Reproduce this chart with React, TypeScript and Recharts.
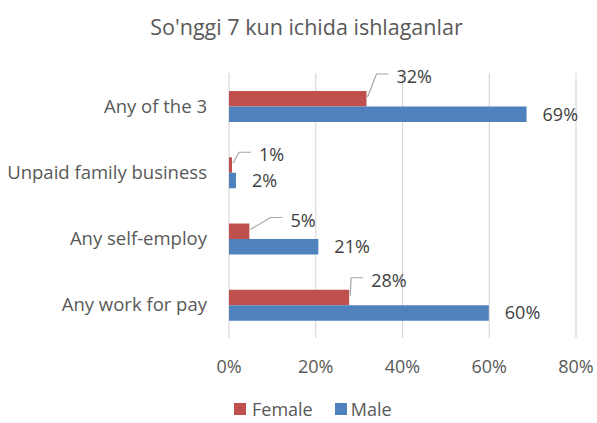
import React from 'react';
import { BarChart, Bar, XAxis, YAxis, CartesianGrid, LabelList } from 'recharts';

const categories = ['Any of the 3', 'Unpaid family business', 'Any self-employ', 'Any work for pay'];
const femaleValues = [31.7, 0.7, 4.7, 27.7];
const maleValues = [68.6, 1.6, 20.6, 59.9];
const xTicks = [0, 20, 40, 60, 80];
const title = "So'nggi 7 kun ichida ishlaganlar";

// Excel-style manually placed female labels: elbow offset relative to bar end / bar top
const femaleLabelNudge: Record<string, [number, number]> = {
  'Any of the 3': [10, -17],
  'Unpaid family business': [7, -5],
  'Any self-employ': [21, -6],
  'Any work for pay': [2, -12],
};

const data = categories.map((name, i) => ({ name, Female: femaleValues[i], Male: maleValues[i] }));

const FONT = '"Open Sans", sans-serif';
const AXIS_COLOR = '#595959';
const LABEL_COLOR = '#404040';
const RED = '#C0504D';
const BLUE = '#4F81BD';

const FemaleLabel = (props: any) => {
  const { x, y, width, value, index } = props;
  const name = categories[index];
  const [dx, dy] = femaleLabelNudge[name] || [10, -10];
  const end = Number(x) + Number(width);
  const top = Number(y);
  const sx = end + 1;
  const sy = top + 6;
  const ex = end + dx;
  const ey = top + dy;
  const lx = ex + 12;
  return (
    <g>
      <polyline points={`${sx},${sy} ${ex},${ey} ${lx},${ey}`} fill="none" stroke="#A6A6A6" strokeWidth={1.2} />
      <text x={lx + 8} y={ey + 2} dominantBaseline="central" fill={LABEL_COLOR} fontSize={18} fontFamily={FONT}>
        {Math.round(Number(value))}%
      </text>
    </g>
  );
};

export default function App() {
  return (
    <div style={{ position: 'absolute', left: 0, top: 0, width: 597, height: 423, background: '#fff', fontFamily: FONT }}>
      <div style={{ position: 'absolute', left: 16, width: 581, top: 13, textAlign: 'center', fontSize: 21.5, color: AXIS_COLOR, lineHeight: '28px' }}>
        {title}
      </div>
      <BarChart
        layout="vertical"
        width={597}
        height={423}
        data={data}
        margin={{ top: 73, right: 21, bottom: 0, left: 0 }}
        barGap={0}
        barSize={15.5}
      >
        <CartesianGrid horizontal={false} stroke="#D9D9D9" strokeWidth={1.2} />
        <XAxis
          type="number"
          domain={[0, 80]}
          ticks={xTicks}
          tickFormatter={(v: number) => `${v}%`}
          axisLine={false}
          tickLine={false}
          height={85}
          tickMargin={16}
          tick={{ fill: AXIS_COLOR, fontSize: 18, fontFamily: FONT }}
        />
        <YAxis
          type="category"
          dataKey="name"
          width={229}
          axisLine={false}
          tickLine={false}
          tickMargin={16}
          tick={{ fill: AXIS_COLOR, fontSize: 18.5, fontFamily: FONT }}
        />
        <Bar dataKey="Female" fill={RED} isAnimationActive={false}>
          <LabelList dataKey="Female" content={FemaleLabel} />
        </Bar>
        <Bar dataKey="Male" fill={BLUE} isAnimationActive={false}>
          <LabelList
            dataKey="Male"
            position="right"
            offset={16}
            formatter={(v: any) => `${Math.round(Number(v))}%`}
            fill={LABEL_COLOR}
            style={{ fontSize: 18, fontFamily: FONT, fill: LABEL_COLOR }}
          />
        </Bar>
      </BarChart>
      <div style={{ position: 'absolute', top: 397, left: 234, display: 'flex', alignItems: 'center', fontSize: 18, color: AXIS_COLOR, lineHeight: 'normal' }}>
        <span style={{ display: 'inline-block', width: 12, height: 12, background: RED, marginRight: 6 }} />
        <span style={{ marginRight: 22 }}>Female</span>
        <span style={{ display: 'inline-block', width: 12, height: 12, background: BLUE, marginRight: 4 }} />
        <span>Male</span>
      </div>
    </div>
  );
}
